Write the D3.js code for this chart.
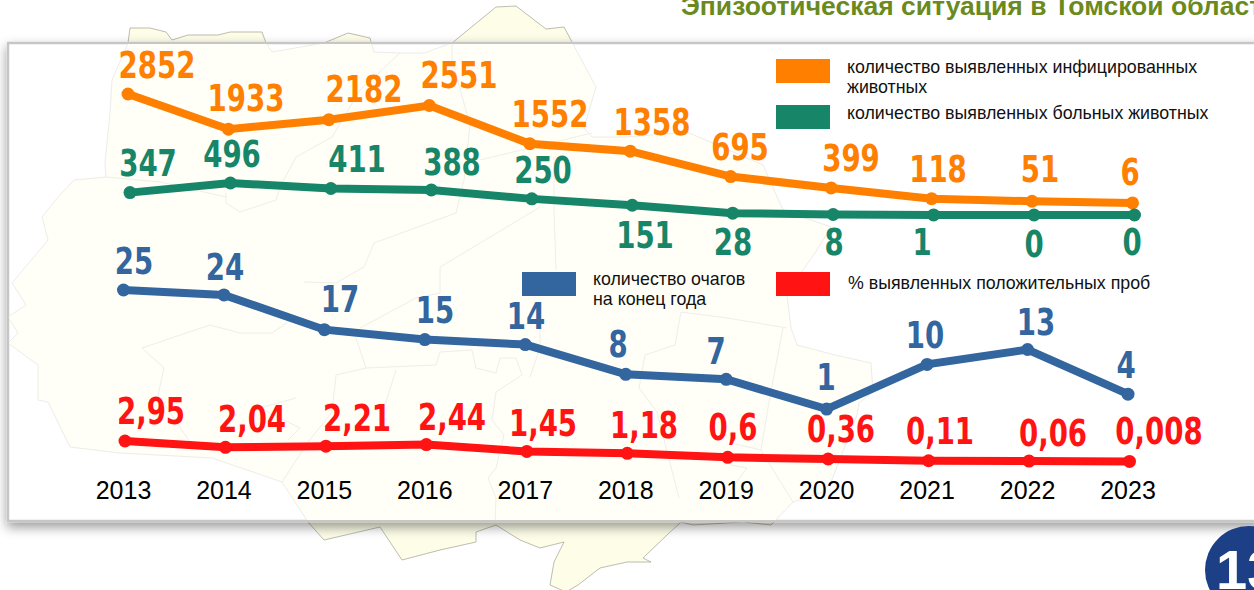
<!DOCTYPE html>
<html>
<head>
<meta charset="utf-8">
<title>Эпизоотическая ситуация</title>
<script src="https://cdn.jsdelivr.net/npm/d3@7"></script>
<style>
  html, body { margin: 0; padding: 0; background: #fff; overflow: hidden; }
  svg { display: block; }
</style>
</head>
<body>
<svg class="chart"></svg>
<script>
var years = [2013, 2014, 2015, 2016, 2017, 2018, 2019, 2020, 2021, 2022, 2023];

var infected = [2852, 1933, 2182, 2551, 1552, 1358, 695, 399, 118, 51, 6];
var sick = [347, 496, 411, 388, 250, 151, 28, 8, 1, 0, 0];
var foci = [25, 24, 17, 15, 14, 8, 7, 1, 10, 13, 4];
var positive = [2.95, 2.04, 2.21, 2.44, 1.45, 1.18, 0.6, 0.36, 0.11, 0.06, 0.008];

var titleText = "Эпизоотическая ситуация в Томской области";
var pageNumber = "13";

// every series sits on its own band of the slide, the scales are independent
var series = [
  {values: infected, color: "#ff8000", dx: 5, band: [203.2, 94],
   labels: [[157,78],[246,111],[364,102],[459,88],[550,127],[652,135],[740,160],[851,171],[938,182],[1040,182],[1130,185]]},
  {values: sick, color: "#178567", dx: 7, band: [215, 183],
   labels: [[148,176],[232,167],[357,172],[452,175],[543,183],[645,248],[733,255],[834,255],[922,255],[1034,257],[1132,255]]},
  {values: foci, color: "#33659f", dx: 0.5, band: [414, 290],
   labels: [[134,274],[225,280],[340,312],[435,323],[526,329],[618,357],[716,364],[826,390],[925,348],[1036,335],[1126,378]]},
  {values: positive, color: "#ff1313", dx: 2, band: [461.5, 441],
   labels: [[151,424],[252,432],[357,431],[452,430],[543,436],[644,438],[733,440],[841,442],[940,444],[1053,446],[1159,444]]}
];

var legend = [
  {color: "#ff8000", x: 776, y: 59, lines: ["количество выявленных инфицированных", "животных"], tx: 847, ty: 73},
  {color: "#178567", x: 776, y: 105, lines: ["количество выявленных больных животных"], tx: 847, ty: 119},
  {color: "#33659f", x: 522, y: 272, lines: ["количество очагов", "на конец года"], tx: 593, ty: 285},
  {color: "#ff1313", x: 776, y: 272, lines: ["% выявленных положительных проб"], tx: 848, ty: 289}
];

// region map behind the chart, traced by hand
var mapOutline = [[130,28],[150,28],[166,32],[172,40],[188,35],[218,35],[230,32],[262,32],[266,43],[272,52],[324,43],[348,33],[370,38],[374,52],[400,53],[424,53],[452,43],[496,7],[516,6],[546,29],[564,27],[596,87],[584,128],[592,137],[627,137],[687,132],[763,165],[783,210],[831,227],[815,253],[803,270],[787,295],[791,328],[797,345],[835,355],[871,363],[873,392],[859,403],[857,415],[831,482],[823,492],[793,502],[771,525],[743,522],[693,525],[681,522],[667,535],[643,558],[651,562],[627,562],[600,568],[578,585],[566,592],[550,585],[554,562],[564,542],[540,548],[520,540],[496,525],[476,532],[476,542],[440,550],[402,560],[380,527],[324,540],[308,522],[282,482],[212,458],[120,453],[70,447],[48,402],[38,400],[38,365],[8,343],[18,333],[8,317],[26,305],[12,283],[48,240],[42,217],[58,197],[74,180],[106,177],[105,163],[110,113],[112,80],[128,43]];

var mapBorders = [
  [[400,53],[360,90],[332,137],[296,157],[280,187],[276,200],[240,212],[226,203],[226,193]],
  [[106,177],[160,182],[226,197]],
  [[452,43],[452,60],[470,125],[464,180],[456,213],[374,243],[364,267],[336,283],[304,282]],
  [[480,160],[592,133]],
  [[554,157],[554,210],[556,270]],
  [[540,207],[440,267],[440,293],[416,298],[360,328]],
  [[288,322],[272,333],[240,333],[210,325],[142,348],[164,368],[158,395],[190,442]],
  [[354,332],[366,368],[436,365],[440,352],[472,350],[476,368],[496,373],[500,358],[516,358],[522,375],[496,392],[492,420],[504,435],[496,468],[488,478],[496,498],[495,525]],
  [[366,368],[336,375],[332,412],[308,442],[282,482]],
  [[396,370],[384,408]],
  [[296,398],[260,408],[300,428],[288,440]],
  [[540,328],[540,348],[530,377]],
  [[681,312],[675,345],[645,355],[639,388],[657,412],[679,498]],
  [[681,312],[727,318],[787,328]],
  [[783,328],[769,402],[761,450],[731,443]],
  [[731,465],[747,468],[727,495]],
  [[761,450],[793,502]]
];

var width = 1254, height = 590;

var svg = d3.select(".chart")
    .attr("width", width)
    .attr("height", height);

var defs = svg.append("defs");

defs.append("clipPath").attr("id", "card-clip")
  .append("rect")
    .attr("x", 9).attr("y", 44)
    .attr("width", width).attr("height", 476);

var shadow = defs.append("filter").attr("id", "card-shadow")
    .attr("x", "-5%").attr("y", "-5%").attr("width", "110%").attr("height", "115%");
shadow.append("feDropShadow")
    .attr("dx", 0).attr("dy", 5)
    .attr("stdDeviation", 6)
    .attr("flood-color", "#000")
    .attr("flood-opacity", 0.4);

var outline = d3.line().curve(d3.curveLinearClosed);
var border = d3.line();

// map outside the card is a bit stronger than the washed out part inside
svg.append("path")
    .attr("d", outline(mapOutline))
    .attr("fill", "#fdfde8")
    .attr("stroke", "#a0a094")
    .attr("stroke-width", 0.7);

svg.append("rect")
    .attr("x", 8).attr("y", 43)
    .attr("width", width).attr("height", 478)
    .attr("fill", "#fff")
    .attr("stroke", "#c6c6c6")
    .attr("stroke-width", 2.5)
    .attr("filter", "url(#card-shadow)");

var inner = svg.append("g").attr("clip-path", "url(#card-clip)");

inner.append("path")
    .attr("d", outline(mapOutline))
    .attr("fill", "#fffff8")
    .attr("stroke", "#ecece8")
    .attr("stroke-width", 1);

inner.selectAll(".border")
    .data(mapBorders)
  .enter().append("path")
    .attr("class", "border")
    .attr("d", function(d) { return border(d); })
    .attr("fill", "none")
    .attr("stroke", "#eeeeea")
    .attr("stroke-width", 1);

// title runs off the slide on the right
svg.append("text")
    .attr("x", 681).attr("y", 15)
    .attr("font-family", "Liberation Sans")
    .attr("font-weight", "bold")
    .attr("font-size", 26.5)
    .attr("fill", "#6b8a1e")
    .text(titleText);

var x = d3.scalePoint()
    .domain(years)
    .range([123, 1127.5]);

var xAxis = d3.axisBottom(x).tickSize(0).tickPadding(0);

var axisG = svg.append("g")
    .attr("transform", "translate(0,481)")
    .call(xAxis);
axisG.select(".domain").remove();
axisG.selectAll("text")
    .attr("font-family", "Liberation Sans")
    .attr("font-size", 25)
    .attr("fill", "#000");

series.forEach(function(s) {
  var y = d3.scaleLinear()
      .domain([0, d3.max(s.values)])
      .range(s.band);

  var line = d3.line()
      .x(function(d, i) { return x(years[i]) + s.dx; })
      .y(function(d) { return y(d); });

  var g = svg.append("g");

  g.append("path")
      .attr("d", line(s.values))
      .attr("fill", "none")
      .attr("stroke", s.color)
      .attr("stroke-width", 8);

  g.selectAll("circle")
      .data(s.values)
    .enter().append("circle")
      .attr("cx", function(d, i) { return x(years[i]) + s.dx; })
      .attr("cy", function(d) { return y(d); })
      .attr("r", 6.5)
      .attr("fill", s.color);

  // labels were placed by hand on the slide, narrow and tall
  g.selectAll("text")
      .data(s.values)
    .enter().append("text")
      .attr("transform", function(d, i) {
        return "translate(" + s.labels[i][0] + "," + s.labels[i][1] + ") scale(0.83,1)";
      })
      .attr("text-anchor", "middle")
      .attr("font-family", "DejaVu Sans Condensed")
      .attr("font-weight", "bold")
      .attr("font-size", 37)
      .attr("fill", s.color)
      .text(function(d) { return String(d).replace(".", ","); });
});

legend.forEach(function(l) {
  svg.append("rect")
      .attr("x", l.x).attr("y", l.y)
      .attr("width", 54).attr("height", 24)
      .attr("fill", l.color);

  l.lines.forEach(function(t, i) {
    svg.append("text")
        .attr("x", l.tx)
        .attr("y", l.ty + i * 20)
        .attr("font-family", "Liberation Sans")
        .attr("font-size", 17.8)
        .attr("fill", "#111")
        .text(t);
  });
});

svg.append("circle")
    .attr("cx", 1249).attr("cy", 570)
    .attr("r", 44)
    .attr("fill", "#1d3f85");

svg.append("text")
    .attr("x", 1216).attr("y", 589)
    .attr("font-family", "Liberation Sans")
    .attr("font-weight", "bold")
    .attr("font-size", 56)
    .attr("fill", "#fff")
    .text(pageNumber);
</script>
</body>
</html>
